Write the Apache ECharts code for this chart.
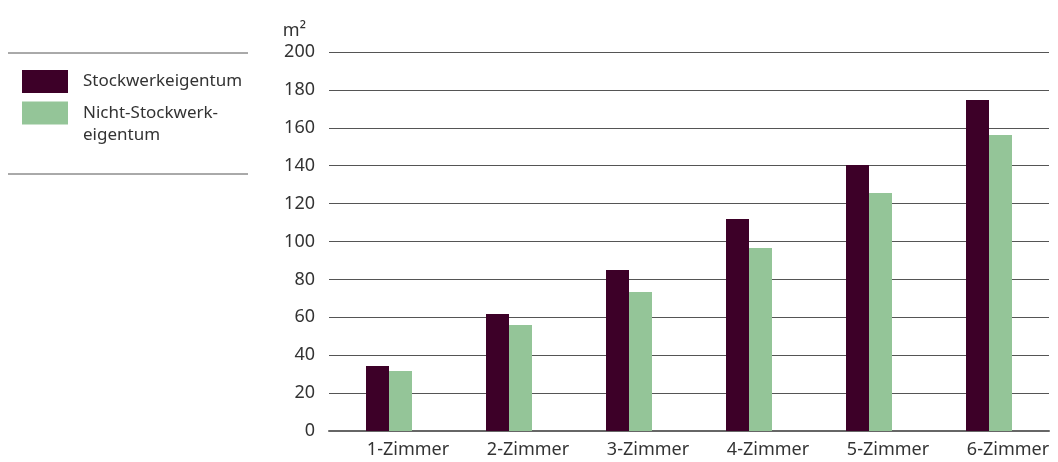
<!DOCTYPE html>
<html>
<head>
<meta charset="utf-8">
<script src="https://cdn.jsdelivr.net/npm/echarts@6/dist/echarts.min.js"></script>
<style>
  html, body { margin: 0; padding: 0; background: #fff; }
  #chart { width: 1058px; height: 462px; }
</style>
</head>
<body>
<div id="chart"></div>
<script>
const categories = ['1-Zimmer', '2-Zimmer', '3-Zimmer', '4-Zimmer', '5-Zimmer', '6-Zimmer'];
const stockwerk = [34.3, 61.7, 85, 111.9, 140.4, 174.7];
const nichtStockwerk = [31.7, 56, 73.4, 96.6, 125.6, 156.2];
const seriesNames = ['Stockwerkeigentum', 'Nicht-Stockwerk-\neigentum'];

const font = 'Noto Sans';
const chart = echarts.init(document.getElementById('chart'));

chart.setOption({
  animation: false,
  textStyle: { fontFamily: font },
  grid: { left: 329, right: 9, top: 52, bottom: 31, containLabel: false },
  legend: {
    orient: 'vertical',
    left: 22,
    top: 70,
    padding: 0,
    itemWidth: 46,
    itemHeight: 23,
    itemGap: -13,
    icon: 'rect',
    textStyle: { fontFamily: font, fontSize: 17, color: '#333', lineHeight: 22, padding: [0, 0, 0, 10] },
    // leading blank line keeps the first text line level with the colour box
    formatter: name => name.indexOf('\n') >= 0 ? ' \n' + name : name,
    data: seriesNames
  },
  graphic: [
    { type: 'line', shape: { x1: 8, y1: 53, x2: 248, y2: 53 }, style: { stroke: '#555', lineWidth: 1 } },
    { type: 'line', shape: { x1: 8, y1: 174, x2: 248, y2: 174 }, style: { stroke: '#555', lineWidth: 1 } }
  ],
  xAxis: {
    type: 'category',
    data: categories,
    axisTick: { show: false },
    axisLine: { lineStyle: { color: '#666', width: 2 } },
    axisLabel: { fontFamily: font, fontSize: 18, color: '#333', margin: 10, padding: [0, 0, 0, 38] }
  },
  yAxis: {
    type: 'value',
    min: 0,
    max: 200,
    interval: 20,
    name: 'm²',
    nameLocation: 'end',
    nameGap: 12,
    nameTextStyle: { fontFamily: font, fontSize: 18, color: '#333', align: 'right', padding: [0, 23, 0, 0] },
    axisLine: { show: false },
    axisTick: { show: false },
    axisLabel: { fontFamily: font, fontSize: 18, color: '#333', margin: 14 },
    splitLine: { lineStyle: { color: '#555', width: 1 } }
  },
  series: [
    {
      name: seriesNames[0],
      type: 'bar',
      data: stockwerk,
      barWidth: 23,
      barGap: '0%',
      itemStyle: { color: '#3d0028' }
    },
    {
      name: seriesNames[1],
      type: 'bar',
      data: nichtStockwerk,
      barWidth: 23,
      barGap: '0%',
      itemStyle: { color: '#94c598' }
    }
  ]
});
</script>
</body>
</html>
